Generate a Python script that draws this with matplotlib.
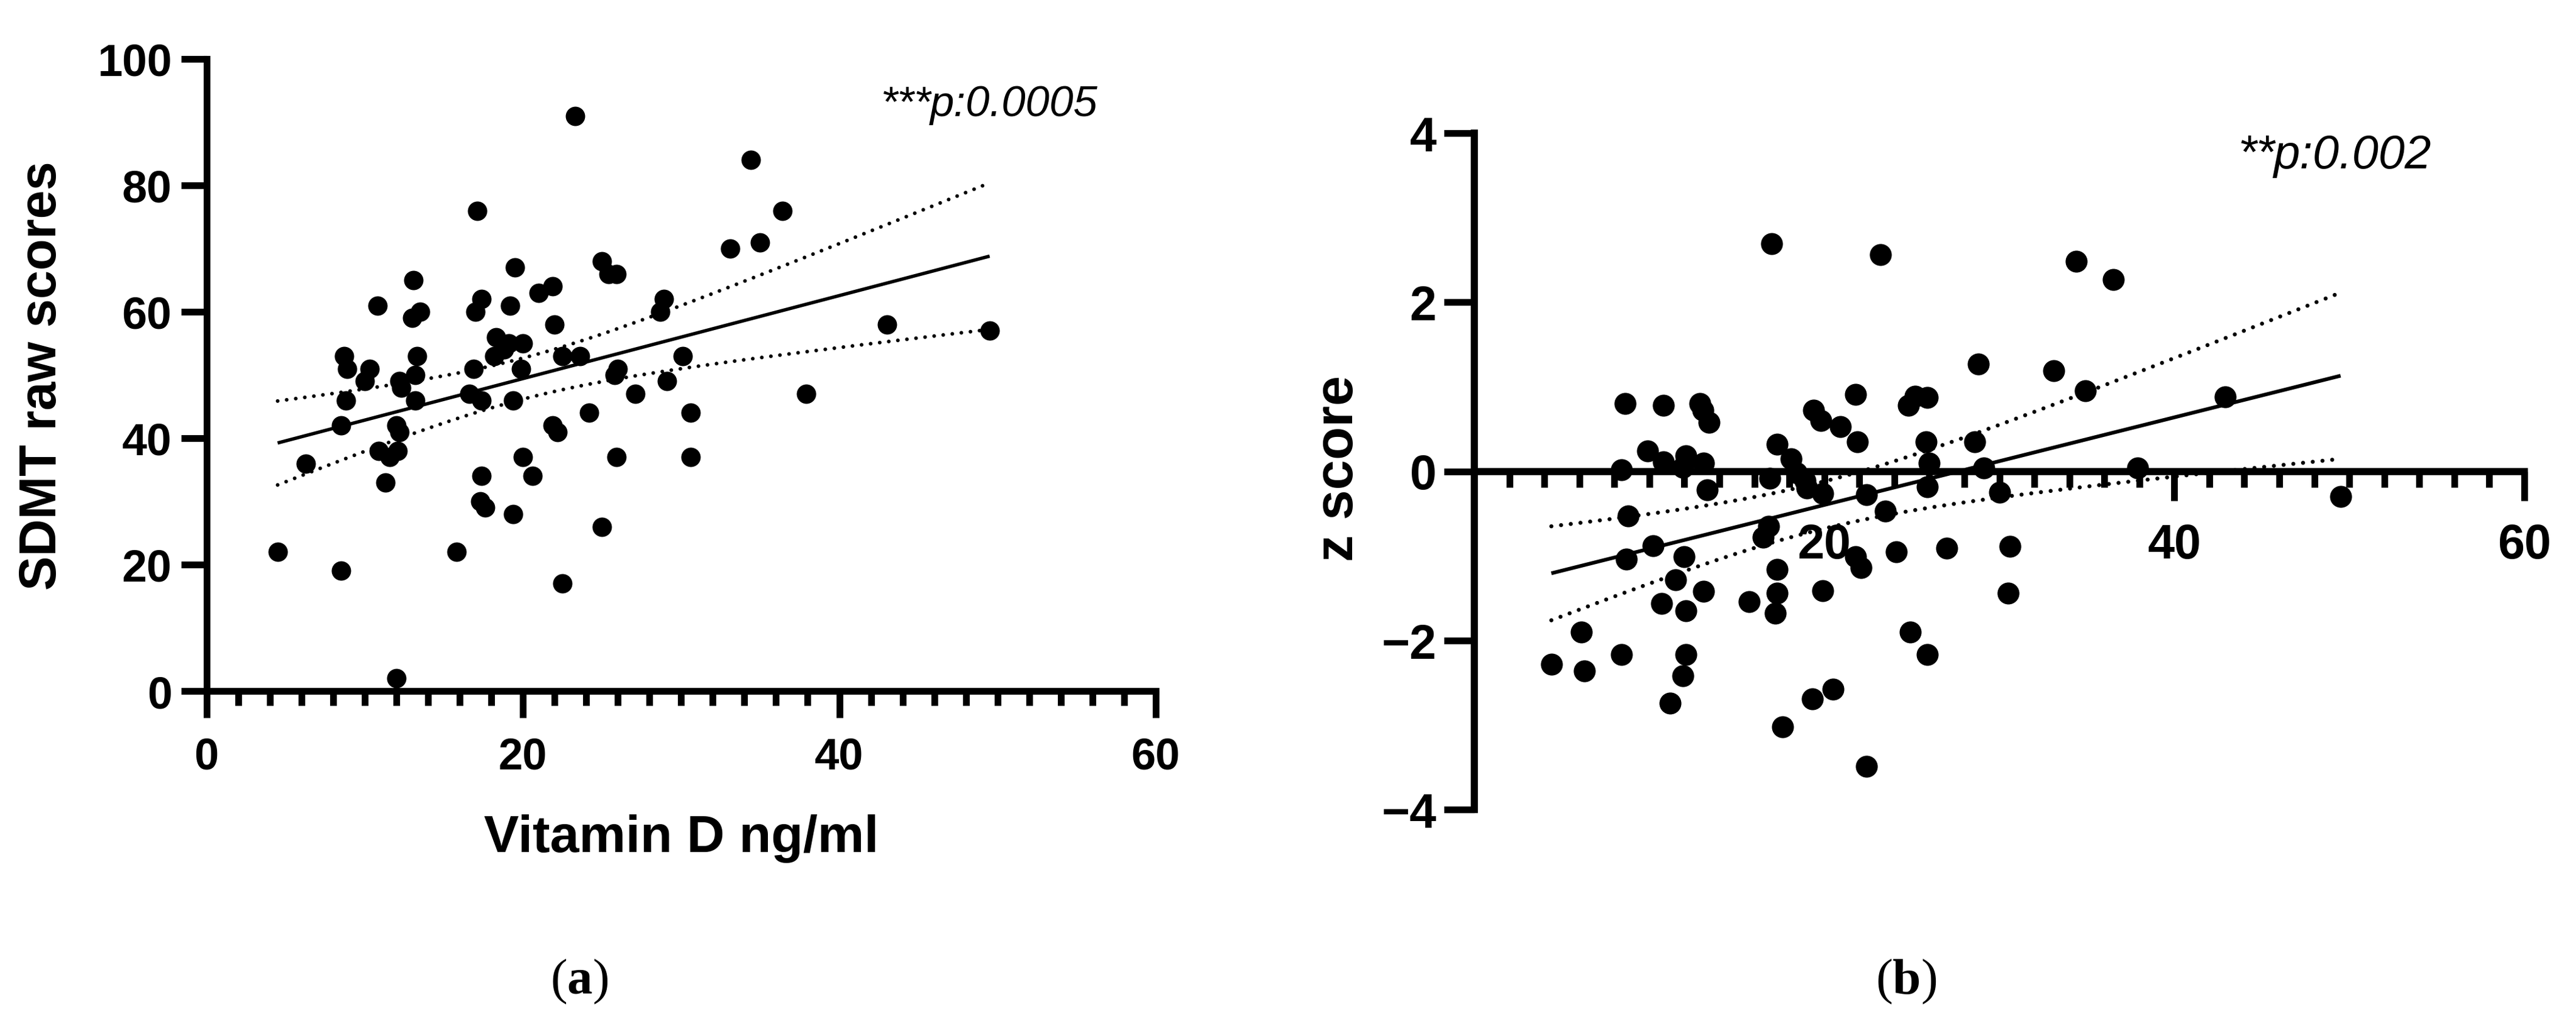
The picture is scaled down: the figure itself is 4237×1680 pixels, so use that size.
import numpy as np
import matplotlib
matplotlib.use("Agg")
import matplotlib.pyplot as plt
from matplotlib.ticker import MultipleLocator, FixedLocator

# ── Data ─────────────────────────────────────────────────────────────────────
# (a) SDMT raw scores vs vitamin D
vitd_a = [23.3, 34.4, 36.4, 17.1, 33.1, 35.0, 19.5, 25.0, 25.4, 25.9,
          13.1, 21.9, 21.0, 10.8, 17.4, 17.0, 19.2, 13.5, 13.0, 28.9,
          28.7, 22.0, 18.3, 19.1, 20.0, 18.2, 22.5, 23.6, 13.3, 8.7,
          8.9, 10.3, 10.0, 12.2, 12.3, 13.2, 16.9, 19.9, 26.0, 25.8,
          30.1, 29.1, 8.8, 13.2, 16.6, 17.4, 19.4, 27.1, 24.2, 30.6,
          8.5, 12.0, 12.2, 21.9, 22.2, 6.3, 10.9, 12.1, 11.6, 11.3,
          20.0, 25.9, 30.6, 17.4, 20.6, 17.3, 17.6, 19.4, 25.0, 4.5,
          15.8, 8.5, 22.5, 12.0, 43.0, 49.5, 37.9, 18.8]
sdmt = [91, 84, 76, 76, 70, 71, 67, 68, 66, 66,
        65, 64, 63, 61, 62, 60, 61, 60, 59, 62,
        60, 58, 56, 55, 55, 53, 53, 53, 53, 53,
        51, 51, 49, 49, 48, 50, 51, 51, 51, 50,
        53, 49, 46, 46, 47, 46, 46, 47, 44, 44,
        42, 42, 41, 42, 41, 36, 38, 38, 37, 33,
        37, 37, 37, 34, 34, 30, 29, 28, 26, 22,
        22, 19, 17, 2, 58, 57, 47, 54]

# (b) z score vs vitamin D
vitd_b = [17.0, 23.2, 34.4, 36.5, 28.8, 33.1, 34.9, 21.8, 42.9, 25.2,
          25.9, 24.8, 8.6, 10.8, 12.9, 13.05, 13.4, 19.4, 19.8, 20.9,
          21.9, 25.8, 28.6, 17.3, 9.9, 10.8, 12.1, 18.1, 8.4, 11.9,
          13.1, 26.0, 29.1, 37.9, 16.9, 18.4, 18.9, 19.0, 19.9, 13.3,
          22.4, 25.9, 30.0, 49.5, 23.5, 8.8, 16.8, 16.5, 10.2, 8.7,
          12.0, 21.8, 22.1, 24.1, 27.0, 30.6, 17.3, 11.5, 13.1, 17.3,
          19.9, 30.5, 10.7, 15.7, 12.1, 17.2, 6.1, 24.9, 8.4, 12.1,
          25.9, 4.4, 6.3, 11.9, 20.5, 19.3, 11.2, 17.6, 22.4]
zscore = [2.69, 2.56, 2.48, 2.27, 1.27, 1.19, 0.95, 0.91, 0.88, 0.89,
          0.87, 0.78, 0.80, 0.78, 0.80, 0.72, 0.58, 0.72, 0.60, 0.53,
          0.35, 0.35, 0.35, 0.32, 0.24, 0.11, 0.18, 0.15, 0.02, 0.05,
          0.10, 0.10, 0.04, 0.04, -0.08, -0.02, -0.11, -0.20, -0.26, -0.22,
          -0.28, -0.18, -0.25, -0.30, -0.47, -0.53, -0.65, -0.78, -0.88, -1.04,
          -1.01, -1.01, -1.14, -0.95, -0.91, -0.89, -1.16, -1.28, -1.42, -1.44,
          -1.41, -1.44, -1.56, -1.54, -1.65, -1.68, -1.90, -1.90, -2.17, -2.17,
          -2.17, -2.28, -2.36, -2.42, -2.58, -2.69, -2.74, -3.02, -3.49]

p_text_a = ("***", "p:0.0005")
p_text_b = ("**", "p:0.002")

T_CRIT = 1.992  # two-sided 95 %, ~76 df

# ── Helpers ──────────────────────────────────────────────────────────────────
def fit_with_ci(x, y, n_pts=200):
    x = np.asarray(x, float)
    y = np.asarray(y, float)
    slope, icpt = np.polyfit(x, y, 1)
    resid = y - (slope * x + icpt)
    s = np.sqrt(np.sum(resid ** 2) / (len(x) - 2))
    sxx = np.sum((x - x.mean()) ** 2)
    xs = np.linspace(x.min(), x.max(), n_pts)
    ys = slope * xs + icpt
    half = T_CRIT * s * np.sqrt(1 / len(x) + (xs - x.mean()) ** 2 / sxx)
    return xs, ys, ys - half, ys + half


def draw_fit(ax, x, y, lw, dot_lw, gap):
    xs, ys, lo, hi = fit_with_ci(x, y)
    ax.plot(xs, ys, color="black", lw=lw, zorder=3, solid_capstyle="butt")
    for band in (lo, hi):
        ax.plot(xs, band, color="black", lw=dot_lw, zorder=3,
                linestyle=(0, (0.01, gap)), dash_capstyle="round")


SANS = "Liberation Sans"
W, H = 4237, 1681
fig = plt.figure(figsize=(W / 100, H / 100), dpi=100)

# ── Panel (a) ────────────────────────────────────────────────────────────────
ax1 = fig.add_axes([339.5 / W, 1 - 1138 / H, 1561.5 / W, 1040 / H])
ax1.set_axisbelow(True)
ax1.scatter(vitd_a, sdmt, s=23 ** 2, color="black", linewidths=0, zorder=4)
draw_fit(ax1, vitd_a, sdmt, 4.0, 4.4, 2.45)
ax1.set_xlim(0, 60)
ax1.set_ylim(0, 100)
ax1.xaxis.set_major_locator(MultipleLocator(20))
ax1.xaxis.set_minor_locator(MultipleLocator(2))
ax1.yaxis.set_major_locator(MultipleLocator(20))
for side in ("top", "right"):
    ax1.spines[side].set_visible(False)
for side in ("left", "bottom"):
    ax1.spines[side].set_linewidth(8)
ax1.tick_params(axis="x", which="major", direction="out", length=32, width=8,
                pad=22, labelsize=52)
ax1.tick_params(axis="x", which="minor", direction="out", length=17, width=8)
ax1.tick_params(axis="y", which="major", direction="out", length=30, width=8,
                pad=11, labelsize=53)
for lab in ax1.get_xticklabels() + ax1.get_yticklabels():
    lab.set_fontfamily(SANS)
    lab.set_fontweight("bold")

ax1.set_xlabel("Vitamin D ng/ml", fontsize=62, fontweight="bold",
               family=SANS, va="baseline")
ax1.xaxis.set_label_coords(0.5, (1138 - 1402) / 1040)
ax1.set_ylabel("SDMT raw scores", fontsize=61, fontweight="bold",
               family=SANS, va="center")
ax1.yaxis.set_label_coords((70 - 339.5) / 1561.5, 0.5)

fig.text(1535 / W, 1 - 191 / H, p_text_a[0], fontsize=51, family=SANS,
         ha="right", va="baseline")
fig.text(1530 / W, 1 - 191 / H, p_text_a[1], fontsize=51, family=SANS,
         style="italic", ha="left", va="baseline")

# ── Panel (b) ────────────────────────────────────────────────────────────────
ax2 = fig.add_axes([2425 / W, 1 - 1333 / H, 1727 / W, 1113 / H])
ax2.set_axisbelow(True)
ax2.scatter(vitd_b, zscore, s=26 ** 2, color="black", linewidths=0, zorder=4)
draw_fit(ax2, vitd_b, zscore, 4.4, 4.8, 2.4)
ax2.set_xlim(0, 60)
ax2.set_ylim(-4, 4)
ax2.spines["bottom"].set_position(("data", 0))
ax2.xaxis.set_major_locator(FixedLocator([20, 40, 60]))
ax2.xaxis.set_minor_locator(FixedLocator([v for v in range(2, 60, 2) if v % 20]))
ax2.yaxis.set_major_locator(MultipleLocator(2))
for side in ("top", "right"):
    ax2.spines[side].set_visible(False)
for side in ("left", "bottom"):
    ax2.spines[side].set_linewidth(8.4)
ax2.tick_params(axis="x", which="major", direction="out", length=34.5, width=8,
                pad=26, labelsize=57)
ax2.tick_params(axis="x", which="minor", direction="out", length=19, width=8)
ax2.tick_params(axis="y", which="major", direction="out", length=36, width=8,
                pad=9, labelsize=57)
for lab in ax2.get_xticklabels() + ax2.get_yticklabels():
    lab.set_fontfamily(SANS)
    lab.set_fontweight("bold")

ax2.set_ylabel("z score", fontsize=64, fontweight="bold", family=SANS,
               va="center")
ax2.yaxis.set_label_coords((2202 - 2425) / 1727, (1333 - 771) / 1113)

fig.text(3745 / W, 1 - 277 / H, p_text_b[0], fontsize=56, family=SANS,
         ha="right", va="baseline")
fig.text(3740 / W, 1 - 277 / H, p_text_b[1], fontsize=56, family=SANS,
         style="italic", ha="left", va="baseline")

# ── Captions ─────────────────────────────────────────────────────────────────
plt.rcParams["mathtext.fontset"] = "custom"
plt.rcParams["mathtext.rm"] = "Liberation Serif"
plt.rcParams["mathtext.bf"] = "Liberation Serif:bold"
for cx, letter in ((953, "a"), (3135, "b")):
    fig.text(cx / W, 1 - 1635 / H, r"($\mathbf{%s}$)" % letter, fontsize=60,
             family="Liberation Serif", ha="center", va="baseline")

fig.savefig("out.png", dpi=100, facecolor="white")
